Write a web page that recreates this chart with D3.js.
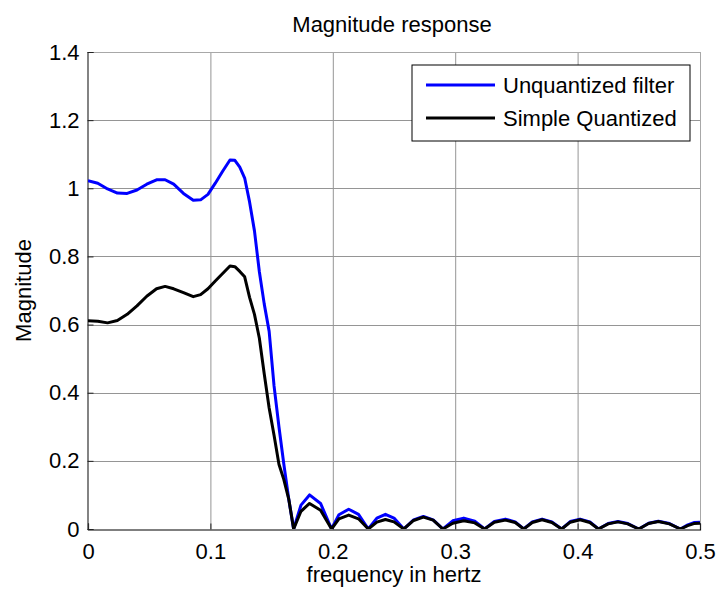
<!DOCTYPE html>
<html>
<head>
<meta charset="utf-8">
<script src="https://cdn.jsdelivr.net/npm/d3@7"></script>
<style>
  body { margin: 0; background: #fff; }
  text { font-family: "Liberation Sans", Arial, sans-serif; fill: #000; }
</style>
</head>
<body>
<svg id="chart"></svg>
<script>
// values
var freq = [0, 0.008, 0.016, 0.024, 0.032, 0.040, 0.048, 0.056, 0.063, 0.070,
  0.078, 0.086, 0.092, 0.098, 0.104, 0.110, 0.116, 0.120, 0.124, 0.128,
  0.132, 0.136, 0.140, 0.144, 0.148, 0.152, 0.156, 0.160, 0.164, 0.168,
  0.174, 0.181, 0.190, 0.199,
  0.205, 0.213, 0.221, 0.229,
  0.236, 0.243, 0.250, 0.258,
  0.266, 0.274, 0.282, 0.290,
  0.298, 0.307, 0.316, 0.324,
  0.332, 0.341, 0.349, 0.356,
  0.363, 0.371, 0.379, 0.387,
  0.394, 0.402, 0.410, 0.417,
  0.425, 0.433, 0.441, 0.450,
  0.458, 0.466, 0.475, 0.484,
  0.490, 0.495, 0.500];

var unquantized = [1.022, 1.015, 0.998, 0.986, 0.985, 0.995, 1.012, 1.025, 1.025, 1.012,
  0.985, 0.965, 0.966, 0.982, 1.015, 1.050, 1.083, 1.082, 1.062, 1.030,
  0.960, 0.875, 0.755, 0.660, 0.580, 0.420, 0.300, 0.190, 0.088, 0,
  0.070, 0.100, 0.075, 0,
  0.042, 0.058, 0.043, 0,
  0.032, 0.043, 0.032, 0,
  0.027, 0.037, 0.027, 0,
  0.024, 0.032, 0.023, 0,
  0.022, 0.029, 0.021, 0,
  0.021, 0.029, 0.021, 0,
  0.022, 0.029, 0.021, 0,
  0.016, 0.022, 0.016, 0,
  0.017, 0.023, 0.016, 0,
  0.012, 0.019, 0.020];

var quantized = [0.611, 0.610, 0.605, 0.612, 0.630, 0.655, 0.683, 0.705, 0.712, 0.705,
  0.694, 0.682, 0.688, 0.705, 0.728, 0.750, 0.772, 0.770, 0.756, 0.740,
  0.680, 0.630, 0.560, 0.455, 0.355, 0.275, 0.190, 0.145, 0.088, 0,
  0.052, 0.075, 0.055, 0,
  0.030, 0.041, 0.030, 0,
  0.020, 0.028, 0.021, 0,
  0.025, 0.035, 0.026, 0,
  0.017, 0.024, 0.018, 0,
  0.020, 0.026, 0.019, 0,
  0.019, 0.027, 0.019, 0,
  0.020, 0.027, 0.019, 0,
  0.015, 0.021, 0.015, 0,
  0.016, 0.022, 0.015, 0,
  0.010, 0.016, 0.017];

var xTicks = [0, 0.1, 0.2, 0.3, 0.4, 0.5];
var yTicks = [0, 0.2, 0.4, 0.6, 0.8, 1, 1.2, 1.4];
var seriesNames = ["Unquantized filter", "Simple Quantized"];
var seriesColors = ["#0000ff", "#000000"];

var width = 718, height = 590;
// plot box (window.top is reserved, so use other names)
var pLeft = 88, pRight = 700, pTop = 52, pBottom = 529;
var fs = 22;

var svg = d3.select("#chart").attr("width", width).attr("height", height);

var x = d3.scaleLinear().domain([0, 0.5]).range([pLeft, pRight]);
var y = d3.scaleLinear().domain([0, 1.4]).range([pBottom, pTop]);

// grid
svg.append("g").selectAll("line").data(xTicks.slice(1, -1)).enter().append("line")
  .attr("x1", d => x(d) + 0.5).attr("x2", d => x(d) + 0.5)
  .attr("y1", pTop).attr("y2", pBottom)
  .attr("stroke", "#959595").attr("stroke-width", 1);
svg.append("g").selectAll("line").data(yTicks.slice(1, -1)).enter().append("line")
  .attr("x1", pLeft).attr("x2", pRight)
  .attr("y1", d => Math.round(y(d)) + 0.5).attr("y2", d => Math.round(y(d)) + 0.5)
  .attr("stroke", "#959595").attr("stroke-width", 1);

// box: top and right light gray, left and bottom dark
svg.append("line").attr("x1", pLeft).attr("x2", pRight + 1).attr("y1", pTop + 0.5).attr("y2", pTop + 0.5)
  .attr("stroke", "#a8a8a8");
svg.append("line").attr("x1", pRight + 0.5).attr("x2", pRight + 0.5).attr("y1", pTop).attr("y2", pBottom)
  .attr("stroke", "#a8a8a8");

// axes, ticks pointing inward
var xAxis = d3.axisBottom(x).tickValues(xTicks).tickSize(-6).tickPadding(14)
  .tickFormat(d3.format("~g"));
var yAxis = d3.axisLeft(y).tickValues(yTicks).tickSize(-6).tickPadding(8)
  .tickFormat(d3.format("~g"));

var gx = svg.append("g").attr("transform", "translate(0," + (pBottom + 0.5) + ")").call(xAxis);
var gy = svg.append("g").attr("transform", "translate(" + (pLeft - 0.5) + ",0)").call(yAxis);
gx.select(".domain").attr("stroke", "#000").attr("stroke-width", 1.2);
gy.select(".domain").attr("stroke", "#333").attr("stroke-width", 1.2);
[gx, gy].forEach(g => {
  g.selectAll(".tick line").attr("stroke", "#222");
  g.selectAll(".tick text").style("font-size", fs + "px").attr("fill", "#000");
});
gx.selectAll(".tick text").attr("dy", "0.71em");

// curves
svg.append("clipPath").attr("id", "plotclip").append("rect")
  .attr("x", pLeft).attr("y", pTop - 3).attr("width", pRight - pLeft + 3).attr("height", pBottom - pTop + 3);

var line = d3.line()
  .x((d, i) => x(freq[i]))
  .y(d => y(d));

[unquantized, quantized].forEach((s, k) => {
  svg.append("path")
    .datum(s)
    .attr("clip-path", "url(#plotclip)")
    .attr("fill", "none")
    .attr("stroke", seriesColors[k])
    .attr("stroke-width", 3)
    .attr("stroke-linejoin", "round")
    .attr("d", line);
});

// title and labels
svg.append("text").attr("x", (pLeft + pRight) / 2 - 2).attr("y", 32)
  .attr("text-anchor", "middle").style("font-size", fs + "px").text("Magnitude response");
svg.append("text").attr("x", (pLeft + pRight) / 2).attr("y", 582)
  .attr("text-anchor", "middle").style("font-size", fs + "px").text("frequency in hertz");
svg.append("text")
  .attr("transform", "translate(31," + ((pTop + pBottom) / 2) + ")rotate(-90)")
  .attr("text-anchor", "middle").style("font-size", fs + "px").text("Magnitude");

// legend
var lg = svg.append("g");
lg.append("rect").attr("x", 412).attr("y", 65).attr("width", 278).attr("height", 76)
  .attr("fill", "#fff").attr("stroke", "#000").attr("stroke-width", 1);
seriesNames.forEach((n, i) => {
  var ly = 85 + i * 33;
  lg.append("line").attr("x1", 426).attr("x2", 495).attr("y1", ly).attr("y2", ly)
    .attr("stroke", seriesColors[i]).attr("stroke-width", 3);
  lg.append("text").attr("x", 503).attr("y", ly).attr("dy", "0.35em")
    .style("font-size", fs + "px").text(n);
});
</script>
</body>
</html>
